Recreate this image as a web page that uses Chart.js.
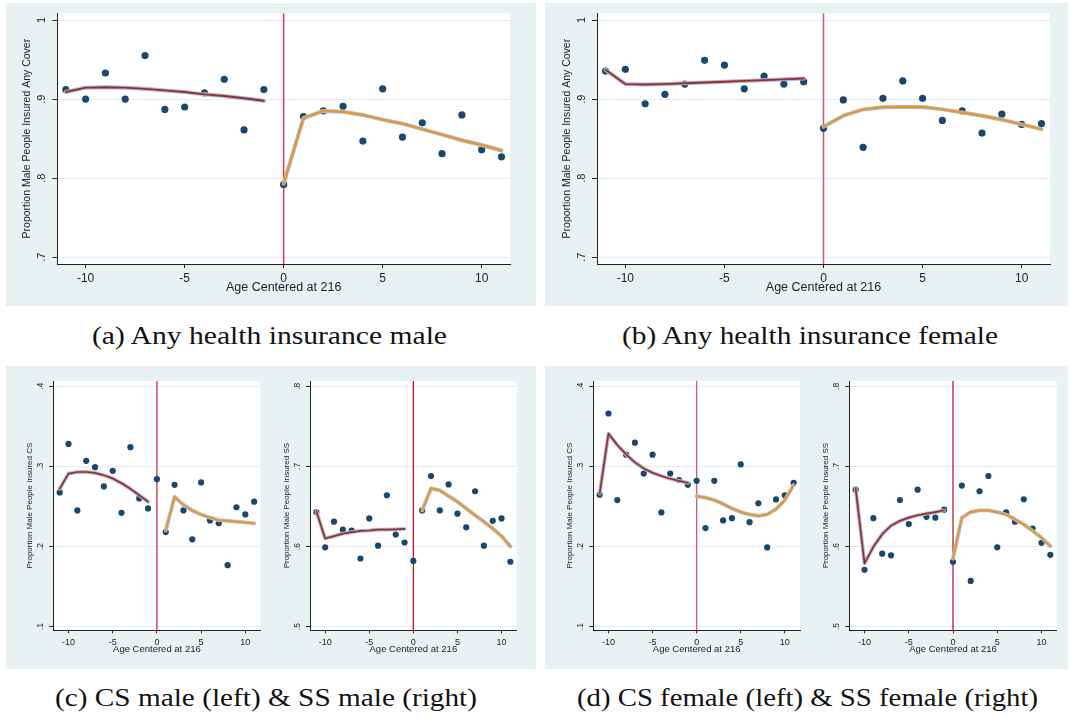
<!DOCTYPE html>
<html><head><meta charset="utf-8">
<script src="https://cdn.jsdelivr.net/npm/chart.js@4.4.1/dist/chart.umd.min.js"></script>
<style>
html,body{margin:0;padding:0;background:#fff}
body{width:1070px;height:718px;position:relative;overflow:hidden}
.bg{position:absolute;background:#e9f1f3}
canvas{position:absolute}
.cap{position:absolute;font-family:"Liberation Serif","Times New Roman",serif;font-size:25px;line-height:30px;height:30px;color:#111;white-space:nowrap;transform-origin:0 50%}
</style></head><body>
<div class="bg" style="left:6px;top:3px;width:530px;height:303px"></div>
<div class="bg" style="left:545px;top:3px;width:523px;height:303px"></div>
<div class="bg" style="left:6px;top:366px;width:530px;height:303px"></div>
<div class="bg" style="left:545px;top:366px;width:523px;height:303px"></div>
<canvas id="cA"></canvas><canvas id="cB"></canvas>
<canvas id="cC1"></canvas><canvas id="cC2"></canvas>
<canvas id="cD1"></canvas><canvas id="cD2"></canvas>
<div class="cap" id="capA">(a) Any health insurance male</div>
<div class="cap" id="capB">(b) Any health insurance female</div>
<div class="cap" id="capC">(c) CS male (left) &amp; SS male (right)</div>
<div class="cap" id="capD">(d) CS female (left) &amp; SS female (right)</div>
<script>
// ---------- DATA ----------
const ages = [-11,-10,-9,-8,-7,-6,-5,-4,-3,-2,-1,0,1,2,3,4,5,6,7,8,9,10,11];
const leftAges = [-11,-10,-9,-8,-7,-6,-5,-4,-3,-2,-1];
const rightAges = [0,1,2,3,4,5,6,7,8,9,10,11];
const rightAgesFrom1 = [1,2,3,4,5,6,7,8,9,10,11];
const xTicks = [-10,-5,0,5,10];

const anyTicks = [0.7,0.8,0.9,1.0];
const anyTickLabels = ['.7','.8','.9','1'];
const csTicks = [0.1,0.2,0.3,0.4];
const csTickLabels = ['.1','.2','.3','.4'];
const ssTicks = [0.5,0.6,0.7,0.8];
const ssTickLabels = ['.5','.6','.7','.8'];

// (a) any cover, male
const anyMaleObs = [.912,.900,.933,.900,.955,.887,.890,.908,.925,.861,.912,.792,.878,.885,.891,.847,.913,.852,.870,.831,.880,.836,.827];
const anyMaleFitL = [.909,.9145,.915,.9145,.913,.911,.909,.906,.904,.901,.898];
const anyMaleFitR = [.793,.876,.885,.884,.880,.874,.869,.862,.855,.848,.842,.835];
// (b) any cover, female
const anyFemaleObs = [.9355,.9376,.894,.906,.919,.949,.943,.913,.929,.919,.922,.863,.899,.839,.901,.923,.901,.873,.885,.857,.881,.868,.869];
const anyFemaleFitL = [.937,.919,.9185,.919,.920,.921,.922,.923,.924,.925,.926];
const anyFemaleFitR = [.865,.879,.887,.8897,.890,.890,.887,.883,.879,.874,.868,.862];
// (c) CS male / SS male
const csMaleObs = [.2675,.328,.245,.307,.299,.275,.2945,.242,.324,.260,.2475,.284,.218,.277,.245,.209,.280,.2325,.229,.1767,.249,.240,.256];
const csMaleFitL = [.272,.291,.293,.293,.292,.289,.285,.279,.272,.264,.256];
const csMaleFitR = [.220,.262,.252,.245,.240,.236,.233,.232,.231,.230,.229];
const ssMaleObs = [.643,.599,.631,.621,.620,.585,.635,.601,.664,.615,.605,.582,.645,.688,.645,.6775,.641,.624,.669,.601,.632,.635,.581];
const ssMaleFitL = [.644,.610,.613,.616,.618,.6195,.620,.621,.621,.6215,.622];
const ssMaleFitR = [.645,.6725,.670,.663,.656,.6475,.639,.631,.6225,.613,.600];
// (d) CS female / SS female
const csFemaleObs = [.2646,.366,.258,.3146,.3296,.291,.3146,.2425,.291,.283,.277,.282,.223,.282,.2325,.2354,.3025,.2304,.254,.1988,.2588,.264,.2796];
const csFemaleFitL = [.266,.341,.3267,.315,.305,.2975,.292,.288,.2846,.282,.2796];
const csFemaleFitR = [.263,.261,.258,.253,.2475,.243,.240,.2383,.240,.2467,.258,.2767];
const ssFemaleObs = [.671,.571,.6354,.591,.589,.658,.628,.671,.637,.636,.646,.581,.676,.557,.669,.688,.599,.6425,.631,.659,.6225,.6046,.5896];
const ssFemaleFitL = [.6725,.579,.5996,.6154,.626,.632,.636,.639,.641,.643,.645];
const ssFemaleFitR = [.585,.636,.643,.645,.645,.643,.640,.634,.6275,.6196,.611,.6004];

// ---------- STYLE ----------
const FONT = '"Liberation Sans", Arial, Helvetica, sans-serif';
const NAVY = '#1a476f', MAROON = '#8e2f3d', ORANGE = '#e8952a', HALO = '#b8b8b8', TXT = '#222';

function pts(xs, ys){ return xs.map((x,i)=>({x:x, y:ys[i]})); }

function makeChart(id, c){
  const cv = document.getElementById(id);
  cv.width = c.box[2]; cv.height = c.box[3];
  cv.style.left = c.box[0]+'px'; cv.style.top = c.box[1]+'px';
  const [cx,cy,cw,ch] = c.box;
  const [L,T,R,B] = c.area;
  const yW = L - cx, xH = cy + ch - B;
  const plug = {
    id:'stata'+id,
    beforeDraw(chart){
      const a = chart.chartArea, ctx = chart.ctx;
      ctx.save(); ctx.fillStyle = '#fff';
      ctx.fillRect(a.left, a.top, a.right-a.left, a.bottom-a.top); ctx.restore();
    },
    afterDraw(chart){
      const a = chart.chartArea, ctx = chart.ctx, ys = chart.scales.y;
      ctx.save(); ctx.fillStyle = TXT; ctx.textAlign = 'center'; ctx.textBaseline = 'alphabetic';
      ctx.font = c.yTickSize + 'px ' + FONT;
      c.yTicks.forEach((v,i)=>{
        ctx.save(); ctx.translate(a.left - c.yTickGap, ys.getPixelForValue(v));
        ctx.rotate(-Math.PI/2); ctx.fillText(c.yLabels[i], 0, 0); ctx.restore();
      });
      ctx.font = c.yTitleSize + 'px ' + FONT;
      ctx.translate(a.left - c.yTitleGap, (a.top + a.bottom)/2);
      ctx.rotate(-Math.PI/2); ctx.fillText(c.yTitle, 0, 0);
      ctx.restore();
    }
  };
  const lw = c.lineW, hw = c.haloW;
  const lineDs = (data, color, w, order)=>({type:'scatter', data, showLine:true, borderColor:color, borderWidth:w,
      pointRadius:0, tension:0, borderJoinStyle:'round', borderCapStyle:'round', order, clip:false});
  return new Chart(cv, {
    type:'scatter',
    data:{datasets:[
      lineDs(pts(c.fitLx, c.fitL), c.leftColor, lw, 0),
      lineDs(pts(c.fitRx, c.fitR), c.rightColor, lw, 1),
      lineDs(pts(c.fitLx, c.fitL), HALO, hw, 2),
      lineDs(pts(c.fitRx, c.fitR), HALO, hw, 3),
      {type:'scatter', data:pts(ages, c.obs), pointRadius:c.ptR, pointBackgroundColor:NAVY, pointBorderWidth:0, pointBorderColor:NAVY, order:5},
      {type:'scatter', data:[{x:0,y:c.yMin},{x:0,y:c.yMax}], showLine:true, borderColor:c.vColor, borderWidth:c.vW, pointRadius:0, order:6}
    ]},
    options:{
      responsive:false, animation:false, devicePixelRatio:1,
      layout:{padding:{left:0, top:T-cy, right:cx+cw-R, bottom:0}},
      plugins:{legend:{display:false}, tooltip:{enabled:false}},
      scales:{
        x:{type:'linear', min:c.xMin, max:c.xMax,
          afterBuildTicks:s=>{ s.ticks = xTicks.map(v=>({value:v})); },
          afterFit:s=>{ s.height = xH; },
          ticks:{color:TXT, font:{family:FONT, size:c.xTickSize}, padding:c.xTickPad, maxRotation:0, minRotation:0, autoSkip:false},
          grid:{display:true, drawOnChartArea:false, drawTicks:true, tickLength:c.tickLen, tickColor:TXT, tickWidth:1},
          border:{display:true, color:TXT, width:1},
          title:{display:true, text:'Age Centered at 216', color:TXT, font:{family:FONT, size:c.xTitleSize}, padding:{top:0, bottom:c.xTitlePad}}
        },
        y:{type:'linear', min:c.yMin, max:c.yMax,
          afterBuildTicks:s=>{ s.ticks = c.yTicks.map(v=>({value:v})); },
          afterFit:s=>{ s.width = yW; },
          ticks:{display:false},
          grid:{display:true, drawOnChartArea:true, color:'#e3ecee', lineWidth:1, drawTicks:true, tickLength:c.tickLen+1, tickColor:TXT, tickWidth:1},
          border:{display:true, color:TXT, width:1}
        }
      }
    },
    plugins:[plug]
  });
}

const TOP = {xMin:-11.43, xMax:11.43, yMin:0.6915, yMax:1.0085, yTicks:anyTicks, yLabels:anyTickLabels,
  yTitle:'Proportion Male People Insured Any Cover', yTickSize:11, yTickGap:12, yTitleSize:10.5, yTitleGap:27,
  xTickSize:12, xTickPad:3, xTitleSize:12.5, xTitlePad:10.5, tickLen:4, ptR:3.6, lineW:1.9, haloW:4, vW:1.5,
  leftColor:MAROON, rightColor:ORANGE, fitLx:leftAges, fitRx:rightAges};
const BOT = {xMin:-11.72, xMax:11.72, yTickSize:8.5, yTickGap:10, yTitleSize:8, yTitleGap:21,
  xTickSize:9, xTickPad:4, xTitleSize:9.5, xTitlePad:13.5, tickLen:3, ptR:3.1, lineW:1.7, haloW:3.8, vW:1.3,
  leftColor:MAROON, rightColor:ORANGE, fitLx:leftAges};
const CS = {yMin:0.0954, yMax:0.4066, yTicks:csTicks, yLabels:csTickLabels, yTitle:'Proportion Male People Insured CS'};
const SS = {yMin:0.4954, yMax:0.8066, yTicks:ssTicks, yLabels:ssTickLabels, yTitle:'Proportion Male People Insured SS'};

makeChart('cA', Object.assign({}, TOP, {box:[6,3,530,303], area:[57.3,13.3,510,264], obs:anyMaleObs, fitL:anyMaleFitL, fitR:anyMaleFitR, vColor:'#d8385e'}));
makeChart('cB', Object.assign({}, TOP, {box:[545,3,523,303], area:[597,13.3,1050,264], obs:anyFemaleObs, fitL:anyFemaleFitL, fitR:anyFemaleFitR, vColor:'#d84f74'}));
makeChart('cC1', Object.assign({}, BOT, CS, {box:[6,366,260,303], area:[53.3,381,260.5,630.3], obs:csMaleObs, fitL:csMaleFitL, fitR:csMaleFitR, fitRx:rightAgesFrom1, vColor:'#c03050'}));
makeChart('cC2', Object.assign({}, BOT, SS, {box:[266,366,270,303], area:[310,381,516.7,630.3], obs:ssMaleObs, fitL:ssMaleFitL, fitR:ssMaleFitR, fitRx:rightAgesFrom1, vColor:'#c8102a'}));
makeChart('cD1', Object.assign({}, BOT, CS, {box:[545,366,260,303], area:[593.3,381,800,630.3], obs:csFemaleObs, fitL:csFemaleFitL, fitR:csFemaleFitR, fitRx:rightAges, vColor:'#d05a86'}));
makeChart('cD2', Object.assign({}, BOT, SS, {box:[805,366,263,303], area:[849.3,381,1056.7,630.3], obs:ssFemaleObs, fitL:ssFemaleFitL, fitR:ssFemaleFitR, fitRx:rightAges, vColor:'#b0203c'}));

// captions: centre and stretch to the reference widths
function cap(id, cxp, cyp, w){
  const el = document.getElementById(id);
  const nat = el.getBoundingClientRect().width;
  const k = w / nat;
  el.style.left = (cxp - w/2) + 'px';
  el.style.top = (cyp - 15) + 'px';
  el.style.transform = 'scaleX(' + k + ')';
}
cap('capA', 269.5, 336, 355);
cap('capB', 810, 336, 376);
cap('capC', 266, 698, 422);
cap('capD', 807.5, 698, 461);
</script>
</body></html>
